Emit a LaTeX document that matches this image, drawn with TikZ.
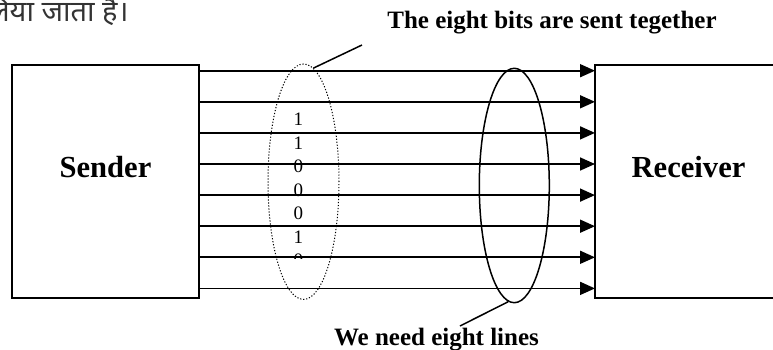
\documentclass[tikz,border=0pt]{standalone}
\usepackage{fontspec}
\setmainfont{Liberation Serif}
\newfontfamily\hindifont[Script=Devanagari]{Noto Sans}
\usetikzlibrary{arrows.meta,calc,shapes.geometric}

\begin{document}
\begin{tikzpicture}[x=0.5pt,y=-0.5pt,
    unit/.style={draw,line width=0.85pt,minimum width=93.5pt,minimum height=116.5pt,inner sep=0pt},
    unitname/.style={font=\fontsize{15.3}{18}\selectfont\bfseries,inner sep=0pt},
    note/.style={font=\fontsize{12.5}{15}\selectfont\bfseries,inner sep=0pt},
    wire/.style={line width=0.85pt,-{Triangle[length=7.5pt,width=6.5pt]}},
    leader/.style={line width=0.75pt}]

    \useasboundingbox (0,0) rectangle (773,349);

    % Line of Hindi text left over from the page, cut at the left edge
    \node[anchor=base east,inner sep=0pt,text=black!80,font=\hindifont\fontsize{14.5}{17}\selectfont] (hindi) at (129,21) {लिया जाता हैं।};

    % Sender and receiver boxes
    \node[unit] (sender) at (105.5,181.5) {};
    \node[unit] (receiver) at (688.5,181.5) {};
    \node[unitname] (sendername) at ($(sender)+(0,-14)$) {Sender};
    \node[unitname] (receivername) at ($(receiver)+(0,-14)$) {Receiver};

    % The bits on the wires, cut off at the bottom
    \begin{scope}
        \clip (260,60) rectangle (340,258);
        \node[anchor=north,align=center,inner sep=0pt,font=\fontsize{9.5}{11.75}\selectfont] (bits) at (298.3,113) {1\\1\\0\\0\\0\\1\\0};
    \end{scope}

    % Define the ends of the eight wires
    \coordinate (s1) at (199,70.7);
    \coordinate (s2) at (199,101.8);
    \coordinate (s3) at (199,132.9);
    \coordinate (s4) at (199,164);
    \coordinate (s5) at (199,195.1);
    \coordinate (s6) at (199,226.2);
    \coordinate (s7) at (199,257.3);
    \coordinate (s8) at (199,288.4);
    \coordinate (r1) at (595,70.7);
    \coordinate (r2) at (595,101.8);
    \coordinate (r3) at (595,132.9);
    \coordinate (r4) at (595,164);
    \coordinate (r5) at (595,195.1);
    \coordinate (r6) at (595,226.2);
    \coordinate (r7) at (595,257.3);
    \coordinate (r8) at (595,288.4);

    % Draw the wires
    \draw[wire] (s1) -- (r1);
    \draw[wire] (s2) -- (r2);
    \draw[wire] (s3) -- (r3);
    \draw[wire] (s4) -- (r4);
    \draw[wire] (s5) -- (r5);
    \draw[wire] (s6) -- (r6);
    \draw[wire] (s7) -- (r7);
    \draw[wire] (s8) -- (r8);

    % Ellipses round the wires
    \node[ellipse,draw,line width=0.5pt,dash pattern=on 0.6pt off 0.9pt,minimum width=35.5pt,minimum height=117.7pt,inner sep=0pt] (bitgroup) at (303.5,181.7) {};
    \node[ellipse,draw,line width=0.75pt,minimum width=35pt,minimum height=117.2pt,inner sep=0pt] (linegroup) at (514.3,185.5) {};

    % Leaders and their notes
    \coordinate (topend) at (362,45);
    \coordinate (bottomend) at (460,326);
    \draw[leader] (bitgroup.85) -- (topend);
    \draw[leader] (linegroup.267) -- (bottomend);
    \node[note,anchor=base] (toptext) at (552,28.3) {The eight bits are sent tegether};
    \node[note,anchor=base] (bottomtext) at (436.5,345) {We need eight lines};

\end{tikzpicture}
\end{document}
